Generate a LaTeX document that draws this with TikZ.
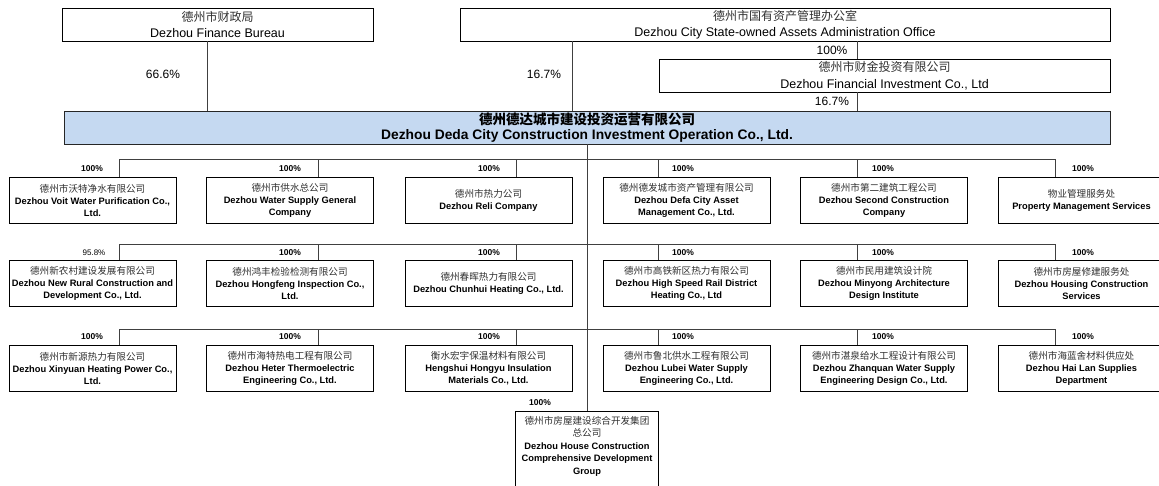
\documentclass[tikz,border=0pt]{standalone}
\usepackage{fontspec}
\setmainfont{Liberation Sans}
\newfontfamily\cjk{Noto Sans CJK SC}
\definecolor{linegray}{HTML}{404040}
\definecolor{mainblue}{HTML}{C5D9F1}
\definecolor{zhgray}{HTML}{303030}
\newcommand{\zhs}[1]{{\cjk\mdseries\fontsize{9.6}{12}\selectfont\color{zhgray}#1}}
\newcommand{\zht}[1]{{\cjk\mdseries\fontsize{12}{16.5}\selectfont\color{zhgray}#1}}
\begin{document}
\begin{tikzpicture}[x=1pt,y=-1pt,
  box/.style={draw=black,line width=0.8pt,rectangle,inner sep=0pt,align=center},
  topbox/.style={box,minimum height=33pt,font=\fontsize{12.5}{16.5}\selectfont},
  mainbox/.style={box,draw=black!85,fill=mainblue,minimum height=33pt,font=\fontsize{13.8}{15.5}\selectfont\bfseries},
  subbox/.style={box,minimum width=167pt,minimum height=46pt,font=\fontsize{9.3}{12}\selectfont\bfseries},
  conn/.style={draw=linegray,line width=1pt},
  outline/.style={draw=black,line width=0.8pt},
  pct/.style={inner sep=0pt,font=\fontsize{12}{14}\selectfont},
  spct/.style={inner sep=0pt,font=\fontsize{8.5}{10}\selectfont\bfseries},
  spctr/.style={inner sep=0pt,font=\fontsize{8}{10}\selectfont}]
\useasboundingbox (0,0) rectangle (1159,486);

% top level
\node[topbox,minimum width=311pt] (fin) at (217.5,24.5) {\zht{德州市财政局}\\Dezhou Finance Bureau};
\node[topbox,minimum width=650pt] (sasac) at (785,24.5) {\zht{德州市国有资产管理办公室}\\Dezhou City State-owned Assets Administration Office};
\node[topbox,minimum width=451pt] (finv) at (884.5,75.5) {\zht{德州市财金投资有限公司}\\Dezhou Financial Investment Co., Ltd};
\node[mainbox,minimum width=1046pt] (main) at (587,127.5) {{\cjk\bfseries\fontsize{13.5}{15.5}\selectfont 德州德达城市建设投资运营有限公司}\\Dezhou Deda City Construction Investment Operation Co., Ltd.};

\node[pct] (p1) at (163,74) {66.6\%};
\node[pct] (p2) at (544,74) {16.7\%};
\node[pct] (p3) at (832,50.5) {100\%};
\node[pct] (p4) at (832,101.5) {16.7\%};

% row 1
\node[subbox] (r1-1) at (92.5,200) {\zhs{德州市沃特净水有限公司}\\Dezhou Voit Water Purification Co.,\\Ltd.};
\node[subbox] (r1-2) at (290,200) {\zhs{德州市供水总公司}\\Dezhou Water Supply General\\Company};
\node[subbox] (r1-3) at (488.5,200) {\zhs{德州市热力公司}\\Dezhou Reli Company};
\node[subbox] (r1-4) at (686.5,200) {\zhs{德州德发城市资产管理有限公司}\\Dezhou Defa City Asset\\Management Co., Ltd.};
\node[subbox] (r1-5) at (884,200) {\zhs{德州市第二建筑工程公司}\\Dezhou Second Construction\\Company};
\node[subbox] (r1-6) at (1081.5,200) {\zhs{物业管理服务处}\\Property Management Services};

% row 2
\node[subbox] (r2-1) at (92.5,283) {\zhs{德州新农村建设发展有限公司}\\Dezhou New Rural Construction and\\Development Co., Ltd.};
\node[subbox] (r2-2) at (290,283) {\zhs{德州鸿丰检验检测有限公司}\\Dezhou Hongfeng Inspection Co.,\\Ltd.};
\node[subbox] (r2-3) at (488.5,283) {\zhs{德州春晖热力有限公司}\\Dezhou Chunhui Heating Co., Ltd.};
\node[subbox] (r2-4) at (686.5,283) {\zhs{德州市高铁新区热力有限公司}\\Dezhou High Speed Rail District\\Heating Co., Ltd};
\node[subbox] (r2-5) at (884,283) {\zhs{德州市民用建筑设计院}\\Dezhou Minyong Architecture\\Design Institute};
\node[subbox] (r2-6) at (1081.5,283) {\zhs{德州市房屋修建服务处}\\Dezhou Housing Construction\\Services};

% row 3
\node[subbox] (r3-1) at (92.5,368) {\zhs{德州市新源热力有限公司}\\Dezhou Xinyuan Heating Power Co.,\\Ltd.};
\node[subbox] (r3-2) at (290,368) {\zhs{德州市海特热电工程有限公司}\\Dezhou Heter Thermoelectric\\Engineering Co., Ltd.};
\node[subbox] (r3-3) at (488.5,368) {\zhs{衡水宏宇保温材料有限公司}\\Hengshui Hongyu Insulation\\Materials Co., Ltd.};
\node[subbox] (r3-4) at (686.5,368) {\zhs{德州市鲁北供水工程有限公司}\\Dezhou Lubei Water Supply\\Engineering Co., Ltd.};
\node[subbox] (r3-5) at (884,368) {\zhs{德州市湛泉给水工程设计有限公司}\\Dezhou Zhanquan Water Supply\\Engineering Design Co., Ltd.};
\node[subbox] (r3-6) at (1081.5,368) {\zhs{德州市海蓝舍材料供应处}\\Dezhou Hai Lan Supplies\\Department};

% row 4 (box runs past the lower edge of the picture)
\node[inner sep=0pt,align=center,anchor=north,minimum width=142pt,minimum height=70pt,font=\fontsize{9.3}{12.5}\selectfont\bfseries] (bot) at (587,411) {\zhs{德州市房屋建设综合开发集团}\\\zhs{总公司}\\Dezhou House Construction\\Comprehensive Development\\Group};
\draw[outline] ([yshift=-12pt]bot.south west) -- (bot.north west) -- (bot.north east) -- ([yshift=-12pt]bot.south east);

% percentage labels of subsidiaries
\foreach \r/\y in {1/169,2/253,3/337} {
  \foreach \c/\x in {2/290,3/489,4/683,5/883,6/1083} {
    \node[spct] (l\r-\c) at (\x,\y) {100\%};
  }
}
\node[spct] (l1-1) at (92,169) {100\%};
\node[spctr] (l2-1) at (94,253) {95.8\%};
\node[spct] (l3-1) at (92,337) {100\%};
\node[spct] (l4) at (540,403) {100\%};

% connectors top
\coordinate (fl) at (207,0);
\coordinate (sl) at (572,0);
\coordinate (vl) at (857,0);
\draw[conn] (fl |- fin.south) -- (fl |- main.north);
\draw[conn] (sl |- sasac.south) -- (sl |- main.north);
\draw[conn] (vl |- sasac.south) -- (vl |- finv.north);
\draw[conn] (vl |- finv.south) -- (vl |- main.north);
\draw[conn] (main.south) -- (bot.north);

% buses
\coordinate (x1) at (119,0);
\coordinate (x2) at (318,0);
\coordinate (x3) at (516,0);
\coordinate (x4) at (658,0);
\coordinate (x5) at (857,0);
\coordinate (x6) at (1055,0);
\foreach \r/\y in {1/159.5,2/244.5,3/329} {
  \coordinate (bus\r) at (0,\y);
  \draw[conn] (x1 |- bus\r) -- (x6 |- bus\r);
  \foreach \c in {1,...,6} {
    \draw[conn] (x\c |- bus\r) -- (x\c |- r\r-\c.north);
  }
}
\end{tikzpicture}
\end{document}
